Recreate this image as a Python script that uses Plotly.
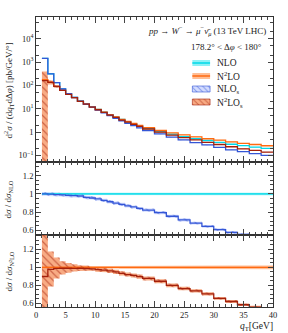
import plotly.graph_objects as go

# ---------------- data ----------------
edges = [1, 2, 3, 4, 5, 6, 7, 8, 9, 10, 11, 12, 13, 14, 15, 16, 17, 18,
         20, 22, 24, 26, 28, 30, 32, 34, 36, 38, 40]

nlo = [1450, 316, 132, 70.8, 44.7, 30.9, 21.9, 16.2, 12.3, 9.33, 7.24, 5.62,
       4.37, 3.47, 2.75, 2.24, 1.82, 1.41, 1.05, 0.813, 0.646, 0.525, 0.437,
       0.363, 0.302, 0.263, 0.229, 0.200]
nlo_unc = [0.012, 0.012, 0.012, 0.012, 0.012, 0.012, 0.012, 0.012, 0.012, 0.012,
           0.012, 0.012, 0.012, 0.012, 0.012, 0.012, 0.012, 0.012, 0.012, 0.012,
           0.013, 0.013, 0.013, 0.013, 0.014, 0.014, 0.014, 0.014]

n2lo = [178, 138, 91, 62, 42, 30, 21, 16, 12, 9.3, 7.2, 5.6, 4.5, 3.5, 2.9,
        2.35, 1.95, 1.55, 1.17, 0.93, 0.76, 0.63, 0.52, 0.45, 0.38, 0.33,
        0.295, 0.26]
n2lo_unc = [0.012, 0.012, 0.012, 0.012, 0.012, 0.012, 0.012, 0.012, 0.012, 0.013,
            0.013, 0.013, 0.013, 0.014, 0.014, 0.014, 0.015, 0.015, 0.016, 0.016,
            0.017, 0.018, 0.019, 0.020, 0.020, 0.021, 0.022, 0.022]

nlo_s = [1450, 315, 131, 70.1, 44.0, 30.3, 21.4, 15.6, 11.75, 8.82, 6.73, 5.14,
         3.93, 3.07, 2.39, 1.92, 1.53, 1.16, 0.835, 0.614, 0.462, 0.357, 0.282,
         0.221, 0.175, 0.146, 0.121, 0.100]
nlo_s_unc = [0.02, 0.02, 0.02, 0.02, 0.02, 0.02, 0.02, 0.02, 0.02, 0.02,
             0.02, 0.02, 0.02, 0.02, 0.02, 0.02, 0.02, 0.022, 0.022, 0.022,
             0.024, 0.024, 0.024, 0.025, 0.025, 0.026, 0.026, 0.026]

n2lo_s = [160, 135, 90.1, 61.4, 41.6, 29.7, 20.8, 15.8, 11.8, 9.07, 6.98, 5.38,
          4.28, 3.27, 2.67, 2.14, 1.75, 1.36, 0.99, 0.744, 0.581, 0.466, 0.367,
          0.295, 0.236, 0.193, 0.165, 0.138]
n2lo_s_up = [1.44, 0.204, 0.121, 0.08, 0.06, 0.045, 0.035, 0.03, 0.025, 0.025,
             0.025, 0.025, 0.025, 0.025, 0.025, 0.025, 0.025, 0.025, 0.025, 0.025,
             0.025, 0.025, 0.025, 0.025, 0.025, 0.025, 0.025, 0.025]
n2lo_s_dn = [1.5, 0.194, 0.116, 0.07, 0.05, 0.035, 0.03, 0.02, 0.02, 0.025,
             0.025, 0.025, 0.025, 0.025, 0.025, 0.025, 0.025, 0.025, 0.025, 0.025,
             0.025, 0.025, 0.025, 0.025, 0.025, 0.025, 0.025, 0.025]

x_ticks = [0, 5, 10, 15, 20, 25, 30, 35, 40]
top_tickvals = [0.1, 1, 10, 100, 1000, 10000]
top_ticktext = ["10<sup>−1</sup>", "1", "10<sup>1</sup>", "10<sup>2</sup>",
                "10<sup>3</sup>", "10<sup>4</sup>"]
ratio_ticks = [0.6, 0.8, 1, 1.2]
legend_names = ["NLO", "N<sup>2</sup>LO", "NLO<sub>s</sub>", "N<sup>2</sup>LO<sub>s</sub>"]

# ---------------- styles ----------------
FONT = "Liberation Serif"
C_NLO = "#00d8e8"
C_NLO_F = "rgba(0,225,235,0.45)"
C_N2LO = "#ff6a10"
C_N2LO_F = "rgba(255,135,60,0.55)"
C_NLOS = "#3456d6"
C_NLOS_BG = "rgba(110,140,255,0.30)"
C_N2LOS = "#a3200c"
C_N2LOS_BG = "rgba(245,135,80,0.70)"

# plot-area geometry in pixels (used for the hand-made legend box)
PL, PR, PT, PB = 36, 277, 17, 307


def step_xy(vals):
    xs = list(edges)
    ys = list(vals) + [vals[-1]]
    return xs, ys


def band_poly(lo, hi):
    xs, ys = [], []
    for i in range(len(hi)):
        xs += [edges[i], edges[i + 1]]
        ys += [hi[i], hi[i]]
    for i in reversed(range(len(lo))):
        xs += [edges[i + 1], edges[i]]
        ys += [lo[i], lo[i]]
    xs.append(xs[0])
    ys.append(ys[0])
    return xs, ys


fig = go.Figure()


def add_poly(xs, ys, axes, color=None, pattern=None, line=None):
    kw = dict(x=xs, y=ys, mode="lines", fill="toself",
              line=line if line else dict(width=0),
              hoverinfo="skip", xaxis=axes[0], yaxis=axes[1], showlegend=False)
    if pattern is not None:
        kw["fillpattern"] = pattern
        kw["fillcolor"] = pattern.get("bgcolor")
    else:
        kw["fillcolor"] = color
    fig.add_trace(go.Scatter(**kw))


def add_band(lo, hi, axes, color=None, pattern=None):
    xs, ys = band_poly(lo, hi)
    add_poly(xs, ys, axes, color, pattern)


def add_line(vals, axes, color, width=1.3):
    xs, ys = step_xy(vals)
    fig.add_trace(go.Scatter(x=xs, y=ys, mode="lines", line_shape="hv",
                             line=dict(color=color, width=width),
                             xaxis=axes[0], yaxis=axes[1],
                             showlegend=False, hoverinfo="skip"))


pat_nlos = dict(shape="\\", fgcolor=C_NLOS, bgcolor=C_NLOS_BG, size=5, solidity=0.25)
pat_n2los = dict(shape="\\", fgcolor=C_N2LOS, bgcolor=C_N2LOS_BG, size=5, solidity=0.25)

A1 = ("x", "y")
A2 = ("x2", "y2")
A3 = ("x3", "y3")
A4 = ("x4", "y4")

# ---- top panel ----
add_band([v * (1 - u) for v, u in zip(nlo, nlo_unc)],
         [v * (1 + u) for v, u in zip(nlo, nlo_unc)], A1, C_NLO_F)
add_band([v * (1 - u) for v, u in zip(n2lo, n2lo_unc)],
         [v * (1 + u) for v, u in zip(n2lo, n2lo_unc)], A1, C_N2LO_F)
add_band([v * (1 - u) for v, u in zip(nlo_s, nlo_s_unc)],
         [v * (1 + u) for v, u in zip(nlo_s, nlo_s_unc)], A1, pattern=pat_nlos)
add_band([max(v * (1 - d), 1e-3) for v, d in zip(n2lo_s, n2lo_s_dn)],
         [v * (1 + u) for v, u in zip(n2lo_s, n2lo_s_up)], A1, pattern=pat_n2los)
add_line(nlo, A1, C_NLO)
add_line(n2lo, A1, C_N2LO)
add_line(nlo_s, A1, C_NLOS)
add_line(n2lo_s, A1, C_N2LOS)

# ---- middle panel: ratio to NLO ----
r_nlos = [a / b for a, b in zip(nlo_s, nlo)]
add_band([1 - u for u in nlo_unc], [1 + u for u in nlo_unc], A2, C_NLO_F)
add_band([r * (1 - u) for r, u in zip(r_nlos, nlo_s_unc)],
         [r * (1 + u) for r, u in zip(r_nlos, nlo_s_unc)], A2, pattern=pat_nlos)
add_line([1.0] * len(nlo), A2, C_NLO)
add_line(r_nlos, A2, C_NLOS)

# ---- bottom panel: ratio to N2LO ----
r_n2los = [a / b for a, b in zip(n2lo_s, n2lo)]
add_band([1 - u for u in n2lo_unc], [1 + u for u in n2lo_unc], A3, C_N2LO_F)
add_band([r * (1 - d) for r, d in zip(r_n2los, n2lo_s_dn)],
         [r * (1 + u) for r, u in zip(r_n2los, n2lo_s_up)], A3, pattern=pat_n2los)
add_line([1.0] * len(n2lo), A3, C_N2LO)
add_line(r_n2los, A3, C_N2LOS)

# ---- hand-made legend (pixel-coordinate overlay axis) ----
LX0, LX1 = 193, 215
LY0, LY1 = 57, 107
leg_rows = [63, 76, 89, 102]
leg_styles = [dict(color=C_NLO_F, line=C_NLO, pattern=None),
              dict(color=C_N2LO_F, line=C_N2LO, pattern=None),
              dict(color=None, line=C_NLOS, pattern=dict(pat_nlos, size=4)),
              dict(color=None, line=C_N2LOS, pattern=dict(pat_n2los, size=4))]
for yc, st in zip(leg_rows, leg_styles):
    x0, x1, y0, y1 = 195, 213, yc - 3, yc + 3
    add_poly([x0, x1, x1, x0, x0], [y0, y0, y1, y1, y0], A4,
             color=st["color"], pattern=st["pattern"])
    if st["pattern"] is None:
        fig.add_trace(go.Scatter(x=[x0, x1], y=[yc, yc], mode="lines",
                                 line=dict(color=st["line"], width=1.3),
                                 xaxis="x4", yaxis="y4", showlegend=False,
                                 hoverinfo="skip"))
    else:
        fig.add_trace(go.Scatter(x=[x0, x1, x1, x0, x0], y=[y0, y0, y1, y1, y0],
                                 mode="lines", line=dict(color=st["line"], width=0.6),
                                 xaxis="x4", yaxis="y4", showlegend=False,
                                 hoverinfo="skip"))

# ---------------- layout ----------------
tickfont = dict(family=FONT, size=8.5, color="#222")
common_x = dict(range=[0, 40], ticks="inside", ticklen=6, tickwidth=0.8,
                tickcolor="#444", tickvals=x_ticks, mirror="ticks",
                showline=True, linecolor="#333", linewidth=0.8, showgrid=False,
                zeroline=False, minor=dict(ticks="inside", dtick=1, ticklen=3,
                                           tickcolor="#444", tickwidth=0.7))
common_y = dict(ticks="inside", ticklen=5, tickwidth=0.8, tickcolor="#444",
                mirror="ticks", showline=True, linecolor="#333", linewidth=0.8,
                showgrid=False, zeroline=False, tickfont=tickfont)

W, H = 288, 333
pw, ph = PR - PL, PB - PT


def px2paper_x(px):
    return (px - PL) / pw


def px2paper_y(py):
    return (PB - py) / ph


fig.update_layout(
    width=W, height=H,
    margin=dict(l=PL, r=W - PR, t=PT, b=H - PB),
    paper_bgcolor="white", plot_bgcolor="white",
    font=dict(family=FONT, size=9, color="#222"),
    showlegend=False,
    xaxis=dict(common_x, anchor="y", showticklabels=False),
    xaxis2=dict(common_x, anchor="y2", matches="x", showticklabels=False),
    xaxis3=dict(common_x, anchor="y3", matches="x", showticklabels=True,
                tickfont=tickfont),
    yaxis=dict(common_y, domain=[0.5, 1.0], type="log", range=[-1.28, 4.93],
               tickvals=top_tickvals, ticktext=top_ticktext,
               minor=dict(ticks="inside", ticklen=3, tickcolor="#444", tickwidth=0.6)),
    yaxis2=dict(common_y, domain=[0.2483, 0.5], range=[0.55, 1.35],
                tickvals=ratio_ticks,
                minor=dict(ticks="inside", dtick=0.05, ticklen=3, tickcolor="#444")),
    yaxis3=dict(common_y, domain=[0.0, 0.2483], range=[0.56, 1.36],
                tickvals=ratio_ticks,
                minor=dict(ticks="inside", dtick=0.05, ticklen=3, tickcolor="#444")),
    xaxis4=dict(domain=[px2paper_x(LX0), px2paper_x(LX1)], range=[LX0, LX1],
                anchor="y4", visible=False, fixedrange=True),
    yaxis4=dict(domain=[px2paper_y(LY1), px2paper_y(LY0)], range=[LY1, LY0],
                anchor="x4", visible=False, fixedrange=True),
)

ann_font = dict(family=FONT, size=9, color="#222")
for yc, name in zip(leg_rows, legend_names):
    fig.add_annotation(xref="paper", yref="paper", x=px2paper_x(218),
                       y=px2paper_y(yc), xanchor="left", yanchor="middle",
                       showarrow=False, font=dict(family=FONT, size=9.5, color="#222"),
                       text=name)

fig.add_annotation(xref="paper", yref="paper", x=px2paper_x(272), y=px2paper_y(31),
                   xanchor="right", yanchor="middle", showarrow=False, font=ann_font,
                   text="<i>pp</i> → <i>W</i><sup>−</sup> → <i>μ</i><sup>−</sup><i>ν̄</i><sub><i>μ</i></sub> (13 TeV LHC)")
fig.add_annotation(xref="paper", yref="paper", x=px2paper_x(268), y=px2paper_y(47),
                   xanchor="right", yanchor="middle", showarrow=False, font=ann_font,
                   text="178.2° &lt; Δ<i>φ</i> &lt; 180°")
fig.add_annotation(xref="paper", yref="paper", x=px2paper_x(9), y=px2paper_y(90),
                   xanchor="center", yanchor="middle", textangle=-90, showarrow=False,
                   font=ann_font,
                   text="d<sup>2</sup><i>σ</i> / (d<i>q</i><sub>T</sub>dΔ<i>φ</i>) [pb/GeV/°]")
fig.add_annotation(xref="paper", yref="paper", x=px2paper_x(9), y=px2paper_y(199),
                   xanchor="center", yanchor="middle", textangle=-90, showarrow=False,
                   font=ann_font, text="d<i>σ</i> / d<i>σ</i><sub>NLO</sub>")
fig.add_annotation(xref="paper", yref="paper", x=px2paper_x(9), y=px2paper_y(271),
                   xanchor="center", yanchor="middle", textangle=-90, showarrow=False,
                   font=ann_font, text="d<i>σ</i> / d<i>σ</i><sub>N²LO</sub>")
fig.add_annotation(xref="paper", yref="paper", x=px2paper_x(279), y=px2paper_y(326),
                   xanchor="right", yanchor="middle", showarrow=False,
                   font=dict(family=FONT, size=9.5, color="#222"),
                   text="<i>q</i><sub>T</sub>[GeV]")

fig.write_html("out.html", config={"displayModeBar": False},
               post_script="document.body.style.margin='0px';"
                           "document.body.style.overflow='hidden';")
